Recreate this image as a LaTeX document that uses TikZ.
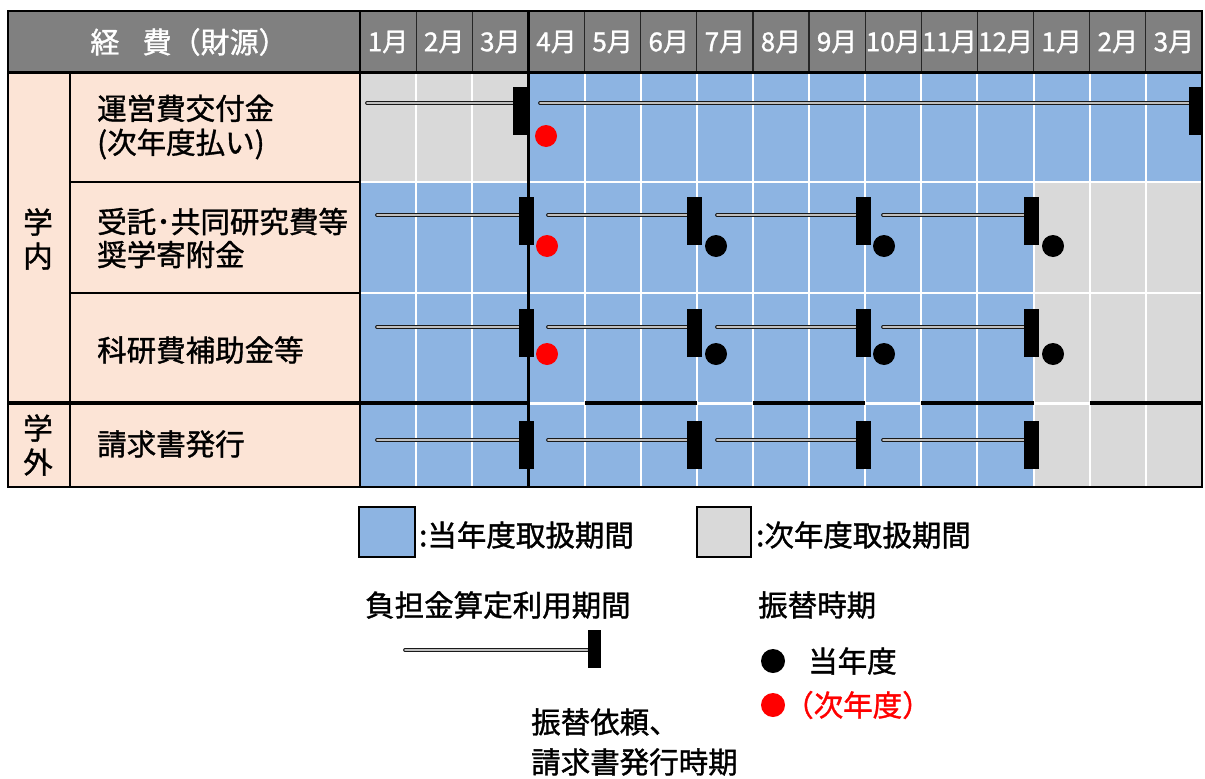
\documentclass[tikz,border=0pt]{standalone}
\usepackage{fontspec}
\newfontfamily\jp[FakeBold=1.2]{Noto Sans CJK JP}
\definecolor{blu}{HTML}{8DB4E2}
\definecolor{gry}{HTML}{D9D9D9}
\definecolor{peach}{HTML}{FCE4D6}
\definecolor{hdr}{HTML}{808080}
\definecolor{redd}{HTML}{FF0000}
\begin{document}
\begin{tikzpicture}[x=1pt,y=-1pt,
  lbl/.style={font=\jp\fontsize{29.5}{34}\selectfont, inner sep=0pt, text=black, align=left, anchor=west},
  mon/.style={font=\jp\fontsize{26}{26}\selectfont, text=white, inner sep=0pt},
  mk/.style={rectangle, fill=black, inner sep=0pt, minimum width=15pt, minimum height=48pt},
  rod/.style={draw=black!90, line width=0.9pt, double=gray!50, double distance=2pt, line cap=round},
  dotk/.style={circle, fill=black, inner sep=0pt, minimum size=22pt},
  dotr/.style={circle, fill=redd, inner sep=0pt, minimum size=22pt},
]
\def\mw{56.133}
\useasboundingbox (0,0) rectangle (1205,779);
\fill[white] (0,0) rectangle (1205,779);
% fills
\fill[hdr] (8,11) rectangle (1202,72);
\fill[peach] (8,72) rectangle (360,487);
\fill[blu] (360,72) rectangle (1202,487);
\fill[gry] (360,72) rectangle ({360+3*\mw},182);
\fill[gry] ({360+12*\mw},182) rectangle (1202,487);
% white grid
\foreach \i in {1,2,4,5,6,7,8,9,10,11,12,13,14}
  \draw[white, line width=2pt] ({360+\i*\mw},72) -- ({360+\i*\mw},487);
\draw[white, line width=2pt] (360,182) -- (1202,182);
\draw[white, line width=2pt] (360,293) -- (1202,293);
\draw[white, line width=3pt] (360,403) -- (1202,403);
% header separators
\foreach \i in {1,2,4,5,6,7,8,9,10,11,12,13,14}
  \draw[black!85, line width=1.2pt] ({360+\i*\mw},11) -- ({360+\i*\mw},72);
\draw[black, line width=1.5pt] (360,11) -- (360,487);
\draw[black, line width=3pt] (8,72) -- (1202,72);
\draw[black, line width=2.5pt] ({360+3*\mw},11) -- ({360+3*\mw},487);
% left column lines
\draw[black, line width=2.5pt] (70,72) -- (70,487);
\draw[black, line width=1.5pt] (70,182) -- (360,182);
\draw[black, line width=1.5pt] (70,293) -- (360,293);
% row3/row4 separator
\draw[black, line width=3.5pt] (8,403) -- ({360+3*\mw},403);
\draw[black, line width=3.5pt] ({360+4*\mw},403) -- ({360+6*\mw},403);
\draw[black, line width=3.5pt] ({360+7*\mw},403) -- ({360+9*\mw},403);
\draw[black, line width=3.5pt] ({360+10*\mw},403) -- ({360+12*\mw},403);
\draw[black, line width=3.5pt] ({360+13*\mw},403) -- (1202,403);
% outer border
\draw[black, line width=2.5pt] (8,11) rectangle (1202,487);
% header text
\node[font=\jp\fontsize{29}{29}\selectfont, text=white, inner sep=0pt] (hd) at (189,42) {経\hspace{0.8em}費（財源）};
\foreach \i/\t in {0/1月,1/2月,2/3月,3/4月,4/5月,5/6月,6/7月,7/8月,8/9月,9/10月,10/11月,11/12月,12/1月,13/2月,14/3月}
  \node[mon] (h\i) at ({360+\i*\mw+\mw/2},42) {\t};
% row labels
\node[lbl, align=center, anchor=center] (gn) at (38,239) {学\\内};
\node[lbl, align=center, anchor=center] (gg) at (38,445) {学\\外};
\node[lbl] (r1) at (97,127) {運営費交付金\\(次年度払い)};
\node[lbl, font=\jp\fontsize{29.5}{33}\selectfont] (r2) at (97,238) {受託･共同研究費等\\奨学寄附金};
\node[lbl] (r3) at (97,350) {科研費補助金等};
\node[lbl] (r4) at (97,444) {請求書発行};
% row 1 bars
\node[mk, minimum width=14pt] (m11) at ({360+3*\mw-8},111) {};
\node[mk, minimum width=14pt] (m12) at (1196,111) {};
\coordinate (s11) at (367,103);
\coordinate (s12) at (540,103);
\draw[rod] (s11) -- (s11 -| m11.west);
\draw[rod] (s12) -- (s12 -| m12.west);
\node[mk, minimum width=14pt] at (m11) {};
\node[mk, minimum width=14pt] at (m12) {};
\node[dotr] (d11) at (546,136) {};
% rows 2-4
\foreach \r/\yc/\yr in {2/221/215, 3/333/327, 4/445/440}{
  \foreach \k/\b/\s in {1/3/377, 2/6/548, 3/9/717, 4/12/883}{
    \node[mk] (m\r\k) at ({360+\b*\mw-2},\yc) {};
    \coordinate (s\r\k) at (\s,\yr);
    \draw[rod] (s\r\k) -- (s\r\k -| m\r\k.west);
    \node[mk] at (m\r\k) {};
  }
}
\node[dotr] (d21) at (547,246) {};
\node[dotk] (d22) at (716,246) {};
\node[dotk] (d23) at (884,246) {};
\node[dotk] (d24) at (1053,246) {};
\node[dotr] (d31) at (547,354) {};
\node[dotk] (d32) at (716,354) {};
\node[dotk] (d33) at (884,354) {};
\node[dotk] (d34) at (1053,354) {};
% legend
\node[draw=black, line width=2.5pt, fill=blu, minimum width=56pt, minimum height=50pt, inner sep=0pt] (lb) at (387,532) {};
\node[lbl] (lbt) at (419,535) {:当年度取扱期間};
\node[draw=black, line width=2.5pt, fill=gry, minimum width=54pt, minimum height=50pt, inner sep=0pt] (lg) at (724,532) {};
\node[lbl] (lgt) at (756,535) {:次年度取扱期間};
\node[lbl] (lrt) at (365,605) {負担金算定利用期間};
\node[mk, minimum width=13pt, minimum height=38pt] (lm) at (594,649) {};
\coordinate (ls) at (405,650);
\draw[rod] (ls) -- (ls -| lm.west);
\node[mk, minimum width=13pt, minimum height=38pt] at (lm) {};
\node[lbl, font=\jp\fontsize{29.5}{40}\selectfont] (lmt) at (531,742) {振替依頼、\\請求書発行時期};
\node[lbl] (ltt) at (758,605) {振替時期};
\node[dotk, minimum size=24pt] (ldk) at (773,661) {};
\node[lbl] (ldkt) at (808,661) {当年度};
\node[dotr, minimum size=24pt] (ldr) at (773,705) {};
\node[lbl, text=redd] (ldrt) at (784,705) {（次年度）};
\end{tikzpicture}
\end{document}
